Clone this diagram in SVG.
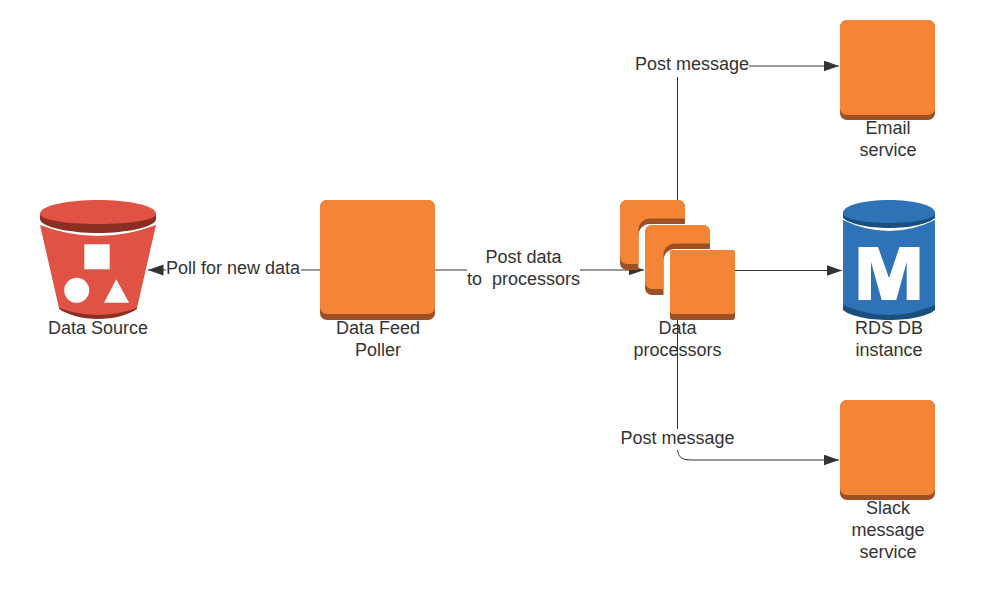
<svg xmlns="http://www.w3.org/2000/svg" width="986" height="596" viewBox="0 0 986 596">
<style>
text{font-family:"Liberation Sans",Arial,sans-serif;font-size:18px;fill:#333;text-anchor:middle;white-space:pre}
.c{fill:none;stroke:#333;stroke-width:1}
.top{fill:#f58536}
.side{fill:#9d5025}
</style>
<defs>
<marker id="a" markerUnits="userSpaceOnUse" markerWidth="16" markerHeight="12" refX="15.500" refY="5.500" orient="auto"><path d="M0 0L15.500 5.500L0 11Z" fill="#333"/></marker>
<g id="box"><rect class="side" x="0" y="0" width="95" height="100" rx="7"/><rect class="top" x="0" y="0" width="95" height="95" rx="7"/></g>
</defs>
<rect width="986" height="596" fill="#fff"/>
<g id="connectors">
<path class="c" d="M320 270H301"/>
<path class="c" d="M166 270H148" marker-end="url(#a)"/>
<path class="c" d="M435 270H467"/>
<path class="c" d="M580 270H644" marker-end="url(#a)"/>
<path class="c" d="M677.500 200V77"/>
<path class="c" d="M749 66H839" marker-end="url(#a)"/>
<path class="c" d="M735 270.500H842" marker-end="url(#a)"/>
<path class="c" d="M677.500 320V429"/>
<path class="c" d="M677.500 450Q678 460 690 460H839" marker-end="url(#a)"/>
</g>
<g id="data-source">
<path d="M59 306V309C68 315 82 319 98 319S128 315 137 309V306Z" fill="#8c2f23"/>
<path d="M40 225Q98 247 156 225L137 308Q98 322 59 308Z" fill="#e05243"/>
<path d="M40 214V219C40 227 70 233 98 233S156 227 156 219V214Z" fill="#8c2f23"/>
<path d="M40 214C40 205 70 200 98 200S156 205 156 214C156 220 130 224 98 224S40 220 40 214Z" fill="#e05243"/>
<rect x="84.300" y="244.300" width="25.400" height="25" fill="#fff"/>
<circle cx="76.700" cy="290.300" r="12.500" fill="#fff"/>
<path d="M116.300 279.300L104 302.700H129Z" fill="#fff"/>
<text x="98" y="334">Data Source</text>
</g>
<g id="data-feed-poller">
<rect class="side" x="320" y="200" width="115" height="120" rx="7"/>
<rect class="top" x="320" y="200" width="115" height="114" rx="7"/>
<text x="378" y="334">Data Feed</text>
<text x="378" y="356">Poller</text>
</g>
<g id="data-processors">
<path class="side" d="M620 207a7 7 0 0 1 7-7h51a7 7 0 0 1 7 7v17h-35a11.500 11.500 0 0 0-11.500 11.500V270h-11.500a7 7 0 0 1-7-7z"/>
<path class="top" d="M620 207a7 7 0 0 1 7-7h51a7 7 0 0 1 7 7v11.500h-35a11.500 11.500 0 0 0-11.500 11.500V264h-11.500a7 7 0 0 1-7-7z"/>
<path class="side" d="M645 232a7 7 0 0 1 7-7h51a7 7 0 0 1 7 7v17h-35a11.500 11.500 0 0 0-11.500 11.500V295h-11.500a7 7 0 0 1-7-7z"/>
<path class="top" d="M645 232a7 7 0 0 1 7-7h51a7 7 0 0 1 7 7v11.500h-35a11.500 11.500 0 0 0-11.500 11.500V289h-11.500a7 7 0 0 1-7-7z"/>
<rect class="side" x="670" y="250" width="65" height="70" rx="3"/>
<rect class="top" x="670" y="250" width="65" height="64" rx="3"/>
<text x="677.500" y="334">Data</text>
<text x="677.500" y="356">processors</text>
</g>
<g id="rds-db">
<path d="M843 305V310C850 316 868 320 889 320S928 316 935 310V305Z" fill="#1a4f7d"/>
<path d="M843 220Q889 242 935 220V305Q889 325 843 305Z" fill="#2e73b8"/>
<path d="M843 213V218C850 224 868 228 889 228S928 224 935 218V213Z" fill="#1a4f7d"/>
<path d="M843 213C843 205 865 200 889 200S935 205 935 213C935 219 915 223 889 223S843 219 843 213Z" fill="#2e73b8"/>
<path d="M858.500 247H878L889 278L899.500 247H919.500V300H906.700V262L896.300 300H881.700L871 262V300H858.500Z" fill="#fff"/>
<text x="889" y="334">RDS DB</text>
<text x="889" y="356">instance</text>
</g>
<g id="email-service">
<use href="#box" x="840" y="20"/>
<text x="888" y="134">Email</text>
<text x="888" y="156">service</text>
</g>
<g id="slack-service">
<use href="#box" x="840" y="400"/>
<text x="888" y="514">Slack</text>
<text x="888" y="536">message</text>
<text x="888" y="558">service</text>
</g>
<g id="labels">
<text x="233" y="274">Poll for new data</text>
<text x="523.500" y="263">Post data</text>
<text x="523.500" y="285">to  processors</text>
<text x="692" y="70">Post message</text>
<text x="677.500" y="444">Post message</text>
</g>
</svg>
